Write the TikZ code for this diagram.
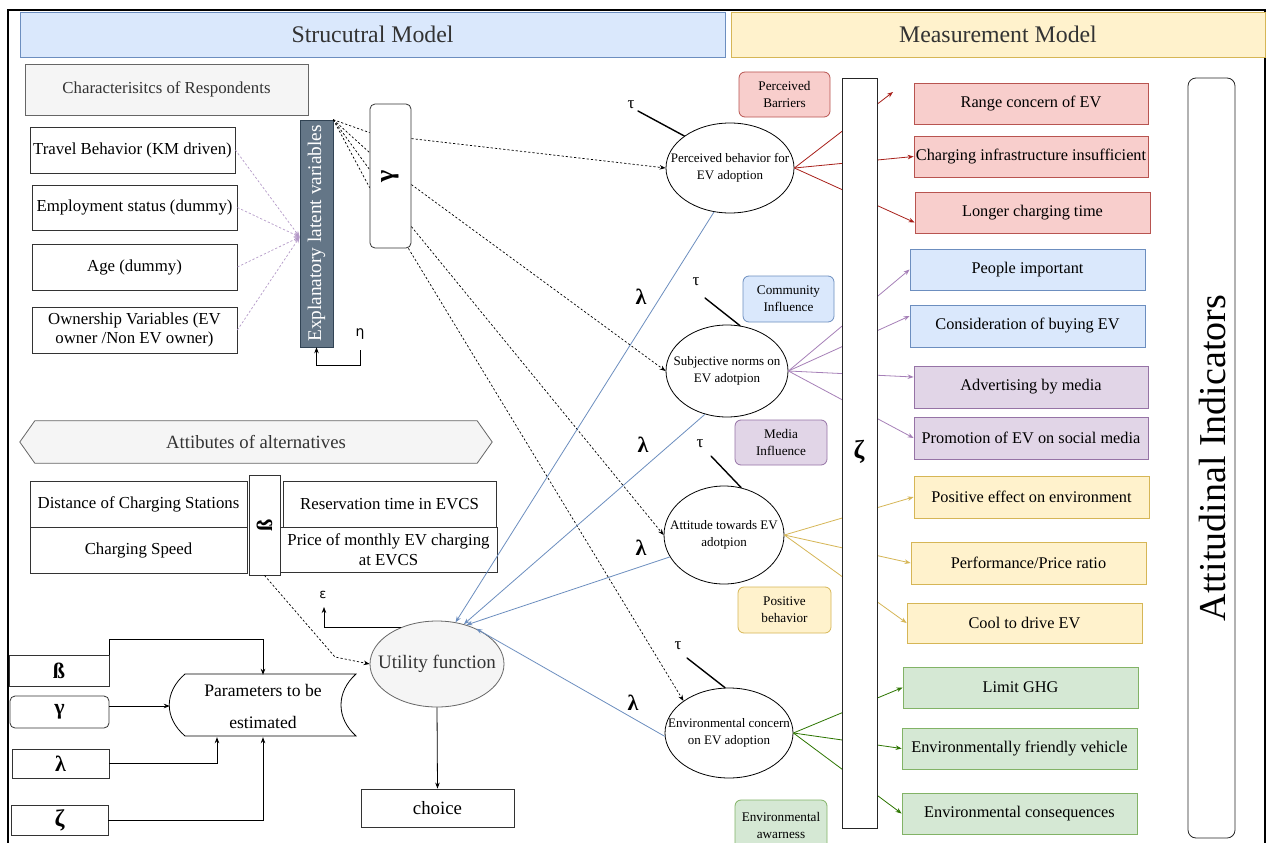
\documentclass[tikz,border=0pt]{standalone}
\usepackage{fontspec}
\setmainfont{Liberation Serif}
\newfontfamily\uprfont{Liberation Serif}
\newfontfamily\sansgr{DejaVu Sans}
\usetikzlibrary{arrows.meta,shapes.geometric}
\newcommand\setfs[2]{\fontsize{#1}{#2}\selectfont}

\definecolor{rFill}{HTML}{F8CECC}\definecolor{rLine}{HTML}{B85450}\definecolor{rArr}{HTML}{A8201A}
\definecolor{bFill}{HTML}{DAE8FC}\definecolor{bLine}{HTML}{6C8EBF}
\definecolor{pFill}{HTML}{E1D5E7}\definecolor{pLine}{HTML}{9673A6}\definecolor{pArr}{HTML}{A680B8}
\definecolor{yFill}{HTML}{FFF2CC}\definecolor{yLine}{HTML}{D6B656}
\definecolor{gFill}{HTML}{D5E8D4}\definecolor{gLine}{HTML}{82B366}\definecolor{gArr}{HTML}{2D7600}
\definecolor{sFill}{HTML}{F5F5F5}\definecolor{sLine}{HTML}{666666}\definecolor{tGrey}{HTML}{333333}
\definecolor{slate}{HTML}{647687}\definecolor{slateLine}{HTML}{314354}
\definecolor{dotPurple}{HTML}{B59AC8}

\begin{document}
\begin{tikzpicture}[x=1pt,y=-1pt,
  plainbox/.style={draw=black!80, line width=0.8pt, fill=white, inner sep=1pt, align=center, font=\setfs{16.8}{19.5}},
  greybox/.style={plainbox, fill=sFill, draw=sLine, text=tGrey},
  ind/.style={draw, line width=0.8pt, inner sep=1pt, align=center, font=\setfs{16.3}{19}},
  redbox/.style={ind, fill=rFill, draw=rLine},
  bluebox/.style={ind, fill=bFill, draw=bLine},
  purplebox/.style={ind, fill=pFill, draw=pLine},
  yellowbox/.style={ind, fill=yFill, draw=yLine},
  greenbox/.style={ind, fill=gFill, draw=gLine},
  tagbox/.style={draw, line width=0.8pt, rounded corners=6pt, inner sep=1pt, align=center, font=\setfs{13.2}{17}},
  latent/.style={ellipse, draw, line width=0.8pt, fill=white, inner sep=0pt},
  lattext/.style={align=center, font=\setfs{13}{16.5}},
  arr/.style={-{Stealth[length=6pt,width=4.5pt]}},
  dline/.style={dash pattern=on 2.2pt off 2pt, line width=0.7pt},
  tauline/.style={line width=1.4pt, line cap=round},
  greek/.style={font=\bfseries\setfs{22}{22}},
  small greek/.style={font=\setfs{17}{17}},
  conn/.style={arr, line width=0.8pt},
]
\useasboundingbox (0,0) rectangle (1266,843);
\fill[white] (0,0) rectangle (1266,843);

% outer frame
\draw[line width=1.6pt] (8,850) -- (8,10) -- (1265,10) -- (1265,850);

% section headers
\node[draw=bLine, fill=bFill, line width=0.6pt, minimum width=705, minimum height=45, inner sep=0pt,
      text=tGrey, font=\setfs{23.8}{24}] (hstruct) at (372.5,34.5) {Strucutral Model};
\node[draw=yLine, fill=yFill, line width=0.6pt, minimum width=534, minimum height=45, inner sep=0pt,
      text=tGrey, font=\setfs{23.8}{24}] (hmeas) at (998,34.5) {Measurement Model};

% respondents block
\node[greybox, minimum width=283, minimum height=51] (resp) at (166.5,89.5) {Characterisitcs of Respondents};
\node[plainbox, minimum width=205, minimum height=46] (travel) at (132.5,150) {Travel Behavior (KM driven)};
\node[plainbox, minimum width=205, minimum height=45] (employ) at (134.5,207.5) {Employment status (dummy)};
\node[plainbox, minimum width=205, minimum height=46] (age) at (134.5,267) {Age (dummy)};
\node[plainbox, minimum width=205, minimum height=46] (owner) at (134.5,330) {Ownership Variables (EV\\owner /Non EV owner)};

% explanatory latent variables
\node[draw=slateLine, fill=slate, line width=0.6pt, minimum width=33, minimum height=227, inner sep=0pt] (expl) at (316.5,233.5) {};
\node[rotate=90, text=white, font=\uprfont\setfs{19.3}{20}] (explt) at (expl) {Explanatory latent variables};
\node[draw=black!80, line width=0.8pt, rounded corners=5pt, fill=white, minimum width=41, minimum height=144, inner sep=0pt] (gam) at (390.5,176) {};
\node[rotate=90, font=\uprfont\bfseries\setfs{26}{26}] (gamt) at (gam) {γ};

% inputs to the explanatory variables
\foreach \src in {travel,employ,age,owner}
  \draw[dline, dotPurple, arr] (\src.east) -- ([yshift=-3.5pt]expl.west);
\foreach \k in {29,49,66,84}
  \draw[dline] (expl.north east) -- ([yshift=-\k pt]gam.north west);

% eta loop
\coordinate (etaA) at (360,350);
\node[font=\sansgr\setfs{14}{14}] (eta) at (360,334) {η};
\draw[arr, line width=0.7pt] (etaA) -- ++(0,15) -| (expl.south);

% latent constructs
\node[latent, minimum width=128, minimum height=90] (pb) at (730,168) {};
\node[lattext] (pbt) at (pb) {Perceived behavior for\\EV adoption};
\node[latent, minimum width=122, minimum height=92] (sn) at (727,371) {};
\node[lattext] (snt) at (sn) {Subjective norms on\\EV adotpion};
\node[latent, minimum width=120, minimum height=98] (at) at (724,535) {};
\node[lattext] (att) at (at) {Attitude towards EV\\adotpion};
\node[latent, minimum width=128, minimum height=90] (ec) at (729,733) {};
\node[lattext] (ect) at (ec) {Environmental concern\\on EV adoption};

% construct tags
\node[tagbox, fill=rFill, draw=rLine, minimum width=91, minimum height=45] (tagpb) at (784.5,94.5) {Perceived\\Barriers};
\node[tagbox, fill=bFill, draw=bLine, minimum width=91, minimum height=46] (tagci) at (788.5,299) {Community\\Influence};
\node[tagbox, fill=pFill, draw=pLine, minimum width=92, minimum height=45] (tagmi) at (781,442.5) {Media\\Influence};
\node[tagbox, fill=yFill, draw=yLine, minimum width=93, minimum height=46] (tagpo) at (784.5,610) {Positive\\behavior};
\node[tagbox, fill=gFill, draw=gLine, minimum width=92, minimum height=50] (tagea) at (781,825) {Environmental\\awarness};

% tau marks
\node[small greek] (tau1) at (631,105) {τ};
\coordinate (tau1a) at (638,111);
\draw[tauline] (tau1a) -- (pb.145);
\node[small greek] (tau2) at (696,282) {τ};
\coordinate (tau2a) at (705,298);
\draw[tauline] (tau2a) -- (sn.74);
\node[small greek] (tau3) at (700,444) {τ};
\coordinate (tau3a) at (711,456);
\draw[tauline] (tau3a) -- (at.70);
\node[small greek] (tau4) at (678,646) {τ};
\coordinate (tau4a) at (687,658);
\draw[tauline] (tau4a) -- (ec.95);

% indicators
\node[redbox, minimum width=234, minimum height=41] (range) at (1031,103.5) {Range concern of EV};
\node[redbox, minimum width=234, minimum height=41] (infra) at (1031,156.5) {Charging infrastructure insufficient};
\node[redbox, minimum width=235, minimum height=41] (longer) at (1032.5,212.5) {Longer charging time};
\node[bluebox, minimum width=235, minimum height=41] (people) at (1027.5,269.5) {People important};
\node[bluebox, minimum width=235, minimum height=42] (consid) at (1027.5,326) {Consideration of buying EV};
\node[purplebox, minimum width=234, minimum height=42] (advert) at (1031,387) {Advertising by media};
\node[purplebox, minimum width=234, minimum height=42] (promo) at (1031,438) {Promotion of EV on social media};
\node[yellowbox, minimum width=235, minimum height=42] (poseff) at (1031.5,497) {Positive effect on environment};
\node[yellowbox, minimum width=235, minimum height=42] (perf) at (1028.5,563) {Performance/Price ratio};
\node[yellowbox, minimum width=235, minimum height=40] (cool) at (1024.5,623) {Cool to drive EV};
\node[greenbox, minimum width=235, minimum height=41] (ghg) at (1020.5,687.5) {Limit GHG};
\node[greenbox, minimum width=235, minimum height=41] (friendly) at (1019.5,748.5) {Environmentally friendly vehicle};
\node[greenbox, minimum width=235, minimum height=41] (conseq) at (1019.5,813.5) {Environmental consequences};

% loadings from constructs to indicators
\coordinate (rangeEnd) at (893,92);
\draw[conn, rArr] (pb.east) -- (rangeEnd);
\draw[conn, rArr] (pb.east) -- (infra.west);
\draw[conn, rArr] (pb.east) -- ([yshift=-10pt]longer.west);
\draw[conn, pArr] (sn.east) -- (people.west);
\draw[conn, pArr] (sn.east) -- ([yshift=10pt]consid.west);
\draw[conn, pArr] (sn.east) -- ([yshift=10pt]advert.west);
\draw[conn, pArr] (sn.east) -- (promo.west);
\draw[conn, yLine] (at.east) -- (poseff.west);
\draw[conn, yLine] (at.east) -- (perf.west);
\draw[conn, yLine] (at.east) -- (cool.west);
\draw[conn, gArr] (ec.east) -- (ghg.west);
\draw[conn, gArr] (ec.east) -- (friendly.west);
\draw[conn, gArr] (ec.east) -- (conseq.west);

% measurement error column
\node[draw=black!85, line width=0.8pt, fill=white, minimum width=35, minimum height=750, inner sep=0pt] (zcol) at (859.5,453) {};
\node[font=\bfseries\setfs{26}{26}] (zcolt) at (859,452) {ζ};

% attitudinal indicators column
\node[draw=black!85, line width=0.8pt, rounded corners=8pt, minimum width=47, minimum height=760, inner sep=0pt] (attcol) at (1211.5,458) {};
\node[rotate=90, font=\uprfont\setfs{38}{38}] (attcolt) at (1212,458) {Attitudinal Indicators};

% structural paths from gamma
\draw[dline, arr] ([yshift=-35pt]gam.north east) -- (pb.west);
\draw[dline, arr] ([yshift=-81pt]gam.north east) -- (sn.west);
\draw[dline, arr] ([yshift=-123pt]gam.north east) -- (at.west);
\draw[dline, arr] ([xshift=-3pt]gam.south east) -- (ec.north west);

% attributes of alternatives
\node[minimum width=472, minimum height=42, inner sep=0pt] (attr) at (256,442) {};
\draw[draw=sLine, fill=sFill, line width=0.8pt] (attr.west) -- ([xshift=15pt]attr.north west) -- ([xshift=-15pt]attr.north east)
  -- (attr.east) -- ([xshift=-15pt]attr.south east) -- ([xshift=15pt]attr.south west) -- cycle;
\node[text=tGrey, font=\setfs{18.7}{20}] (attrt) at (attr) {Attibutes of alternatives};

\node[plainbox, minimum width=217, minimum height=46] (dist) at (138.5,504) {Distance of Charging Stations};
\node[plainbox, minimum width=217, minimum height=46] (speed) at (138.5,550) {Charging Speed};
\node[plainbox, minimum width=31, minimum height=100] (bb) at (264.5,525) {};
\node[rotate=90, font=\uprfont\bfseries\setfs{22}{22}] (bbt) at (bb) {ß};
\node[plainbox, minimum width=213, minimum height=46] (reserv) at (389.5,504) {Reservation time in EVCS};
\node[plainbox, minimum width=217, minimum height=45] (price) at (388.5,549.5) {Price of monthly EV charging\\at EVCS};

% utility and choice
\node[ellipse, draw=sLine, fill=sFill, line width=0.8pt, minimum width=134, minimum height=86, inner sep=0pt] (ut) at (437,664) {};
\node[text=tGrey, font=\setfs{19}{19}] (utt) at (ut) {Utility function};
\node[plainbox, minimum width=153, minimum height=38, font=\setfs{18.8}{20}] (choice) at (437.5,808) {choice};
\draw[conn] (ut.south) -- (choice.north);

\coordinate (epsc) at (324,607);
\node[font=\sansgr\setfs{13}{13}] (eps) at (323,595) {ε};
\draw[arr, line width=0.7pt] (ut.134) -| (epsc);

\draw[dline, arr] (bb.south) -- (335,657) -- (ut.west);

% paths from latent constructs to utility
\draw[conn, bLine] (pb.250) -- (ut.66);
\draw[conn, bLine] (sn.243) -- (ut.56);
\draw[conn, bLine] (at.202) -- (ut.53);
\draw[conn, bLine] (ec.183) -- (ut.42);
\node[greek] (lam1) at (641,297) {λ};
\node[greek] (lam2) at (643,445) {λ};
\node[greek] (lam3) at (641,548) {λ};
\node[greek] (lam4) at (633,703) {λ};

% parameters to be estimated
\draw[line width=0.8pt, fill=white] (185,674) -- (356,674) .. controls (336,692) and (336,718) .. (356,736)
  -- (185,736) .. controls (164,718) and (164,692) .. (185,674);
\node[minimum width=186, minimum height=62, inner sep=0pt, align=center, font=\setfs{17.6}{32}] (par) at (263,706) {Parameters to be\\estimated};

\node[plainbox, minimum width=100, minimum height=31, font=\bfseries\setfs{22}{22}] (bs) at (59,670.5) {ß};
\node[plainbox, rounded corners=5pt, minimum width=99, minimum height=32, font=\bfseries\setfs{22}{22}] (gs) at (59.5,712) {γ};
\node[plainbox, minimum width=97, minimum height=29, font=\bfseries\setfs{22}{22}] (ls) at (60.5,763.5) {λ};
\node[plainbox, minimum width=97, minimum height=30, font=\bfseries\setfs{24}{24}] (zs) at (59.5,820) {ζ};

\draw[conn] (bs.north east) -- ++(0,-15) -| (par.north);
\draw[conn] (gs.east |- par.west) -- (par.west);
\draw[conn] (ls.east) -| ([xshift=-46pt]par.south);
\draw[conn] (zs.east) -| (par.south);
\end{tikzpicture}
\end{document}
